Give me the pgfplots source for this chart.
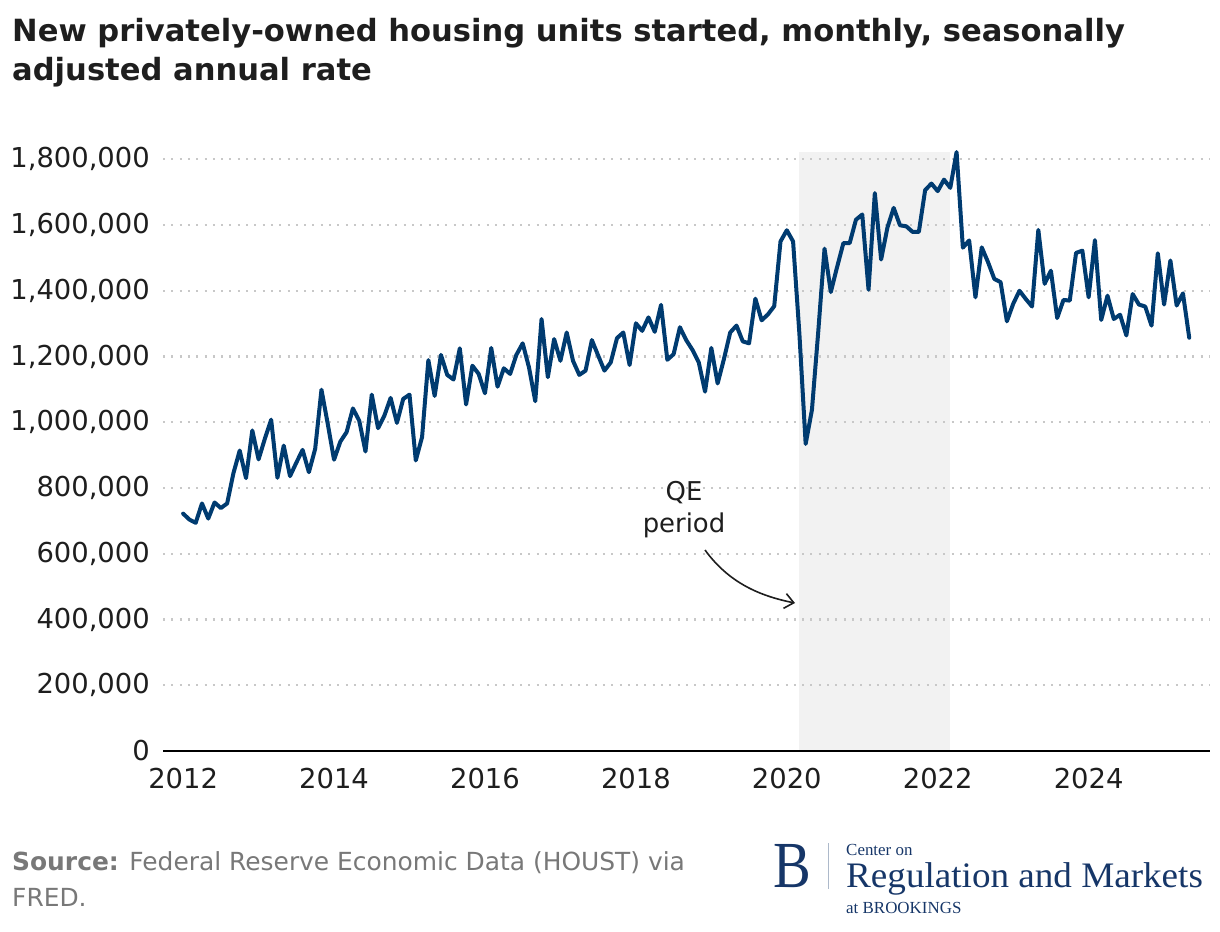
\documentclass[border=0pt]{standalone}
\usepackage{fontspec}
\setmainfont{DejaVu Sans}
\newfontfamily\logofont{Liberation Serif}
\usepackage{pgfplots}
\pgfplotsset{compat=1.18}
\usepackage{pgfplotstable}
\usetikzlibrary{arrows.meta}

\definecolor{linecol}{RGB}{0,59,112}
\definecolor{shade}{RGB}{242,242,242}
\definecolor{gridcol}{RGB}{200,200,200}
\definecolor{txt}{RGB}{30,30,30}
\definecolor{srcgray}{RGB}{120,120,120}
\definecolor{navy}{RGB}{22,54,104}

% housing starts, thousands, SAAR; m = months since Jan 2012
\pgfplotstableread{
m v
0 722
1 704
2 694
3 753
4 707
5 756
6 739
7 753
8 845
9 914
10 830
11 975
12 887
13 950
14 1008
15 831
16 929
17 836
18 877
19 916
20 848
21 919
22 1099
23 995
24 886
25 941
26 970
27 1042
28 1005
29 911
30 1084
31 982
32 1020
33 1074
34 998
35 1071
36 1084
37 884
38 955
39 1189
40 1080
41 1205
42 1144
43 1130
44 1225
45 1054
46 1172
47 1147
48 1088
49 1226
50 1108
51 1164
52 1147
53 1205
54 1240
55 1167
56 1064
57 1314
58 1137
59 1253
60 1187
61 1273
62 1187
63 1144
64 1157
65 1250
66 1203
67 1157
68 1182
69 1256
70 1273
71 1174
72 1301
73 1278
74 1319
75 1275
76 1357
77 1190
78 1207
79 1289
80 1250
81 1220
82 1182
83 1093
84 1226
85 1118
86 1192
87 1273
88 1294
89 1246
90 1240
91 1376
92 1310
93 1328
94 1353
95 1550
96 1584
97 1550
98 1270
99 934
100 1038
101 1275
102 1528
103 1396
104 1472
105 1545
106 1545
107 1616
108 1632
109 1403
110 1697
111 1495
112 1592
113 1652
114 1599
115 1596
116 1579
117 1579
118 1706
119 1726
120 1703
121 1738
122 1713
123 1822
124 1531
125 1553
126 1380
127 1532
128 1487
129 1436
130 1426
131 1307
132 1360
133 1400
134 1375
135 1352
136 1585
137 1421
138 1461
139 1317
140 1372
141 1370
142 1515
143 1522
144 1380
145 1554
146 1311
147 1385
148 1314
149 1327
150 1264
151 1390
152 1358
153 1352
154 1294
155 1514
156 1358
157 1492
158 1355
159 1392
160 1257
}\houst

\begin{document}
\begin{tikzpicture}
% page frame, 1220 x 932
\path (0,0) rectangle (1220bp,-932bp);

% title
\node[anchor=base west, inner sep=0, text=txt, font=\bfseries\fontsize{30.7}{39}\selectfont]
  at (12bp,-41bp) {New privately-owned housing units started, monthly, seasonally};
\node[anchor=base west, inner sep=0, text=txt, font=\bfseries\fontsize{30.7}{39}\selectfont]
  at (12bp,-80bp) {adjusted annual rate};

\begin{axis}[
  at={(163bp,-751bp)}, anchor=south west,
  scale only axis, width=1047bp, height=599bp,
  set layers,
  xmin=-3.2, xmax=163.3, ymin=0, ymax=1822,
  axis x line*=bottom, axis y line*=left,
  x axis line style={line width=2.2bp, black, -},
  y axis line style={draw=none},
  major tick length=0pt, tick style={draw=none},
  xtick={0,24,...,144},
  xticklabels={2012,2014,2016,2018,2020,2022,2024},
  ytick={0,200,...,1800},
  yticklabels={0,{200,000},{400,000},{600,000},{800,000},{1,000,000},{1,200,000},{1,400,000},{1,600,000},{1,800,000}},
  ymajorgrids,
  grid style={gridcol, line width=2.2bp, dash pattern=on 2bp off 6.3bp},
  ticklabel style={font=\fontsize{27.5}{30}\selectfont, text=txt, inner sep=0pt},
  xticklabel style={anchor=north, yshift=-17bp},
  yticklabel style={anchor=east, xshift=-13bp},
  clip=false,
]
% QE period, Mar 2020 - Mar 2022
\addplot[draw=none, fill=shade, on layer=axis background]
  coordinates {(98,1822) (122,1822)} \closedcycle;

\addplot[linecol, line width=4bp, line join=round, line cap=round]
  table[x=m, y=v] {\houst};
\end{axis}

% annotation
\node[anchor=base, inner sep=0, text=txt, font=\fontsize{26}{30}\selectfont] at (684bp,-500bp) {QE};
\node[anchor=base, inner sep=0, text=txt, font=\fontsize{26}{30}\selectfont] at (684bp,-532bp) {period};
\draw[txt, line width=1.6bp, -{Straight Barb[length=9bp, width=15bp]}]
  (705bp,-550bp) .. controls (729bp,-583bp) and (760bp,-596bp) .. (795bp,-603bp);

% source
\node[anchor=base west, inner sep=0, text=srcgray, font=\fontsize{25}{30}\selectfont]
  at (12bp,-870bp) {\textbf{Source:} Federal Reserve Economic Data (HOUST) via};
\node[anchor=base west, inner sep=0, text=srcgray, font=\fontsize{25}{30}\selectfont]
  at (12bp,-906bp) {FRED.};

% logo
\node[anchor=base west, inner sep=0, text=navy, font=\logofont\fontsize{66}{66}\selectfont]
  at (773bp,-887bp) {\scalebox{0.86}[1]{B}};
\draw[navy!35, line width=0.8bp] (828bp,-843bp) -- (828bp,-889bp);
\node[anchor=base west, inner sep=0, text=navy, font=\logofont\fontsize{17}{17}\selectfont]
  at (846bp,-855bp) {Center on};
\node[anchor=base west, inner sep=0, text=navy, font=\logofont\fontsize{36}{36}\selectfont]
  at (846bp,-887bp) {\scalebox{1.035}[1]{Regulation and Markets}};
\node[anchor=base west, inner sep=0, text=navy, font=\logofont\fontsize{17}{17}\selectfont]
  at (846bp,-913bp) {at BROOKINGS};
\end{tikzpicture}
\end{document}
